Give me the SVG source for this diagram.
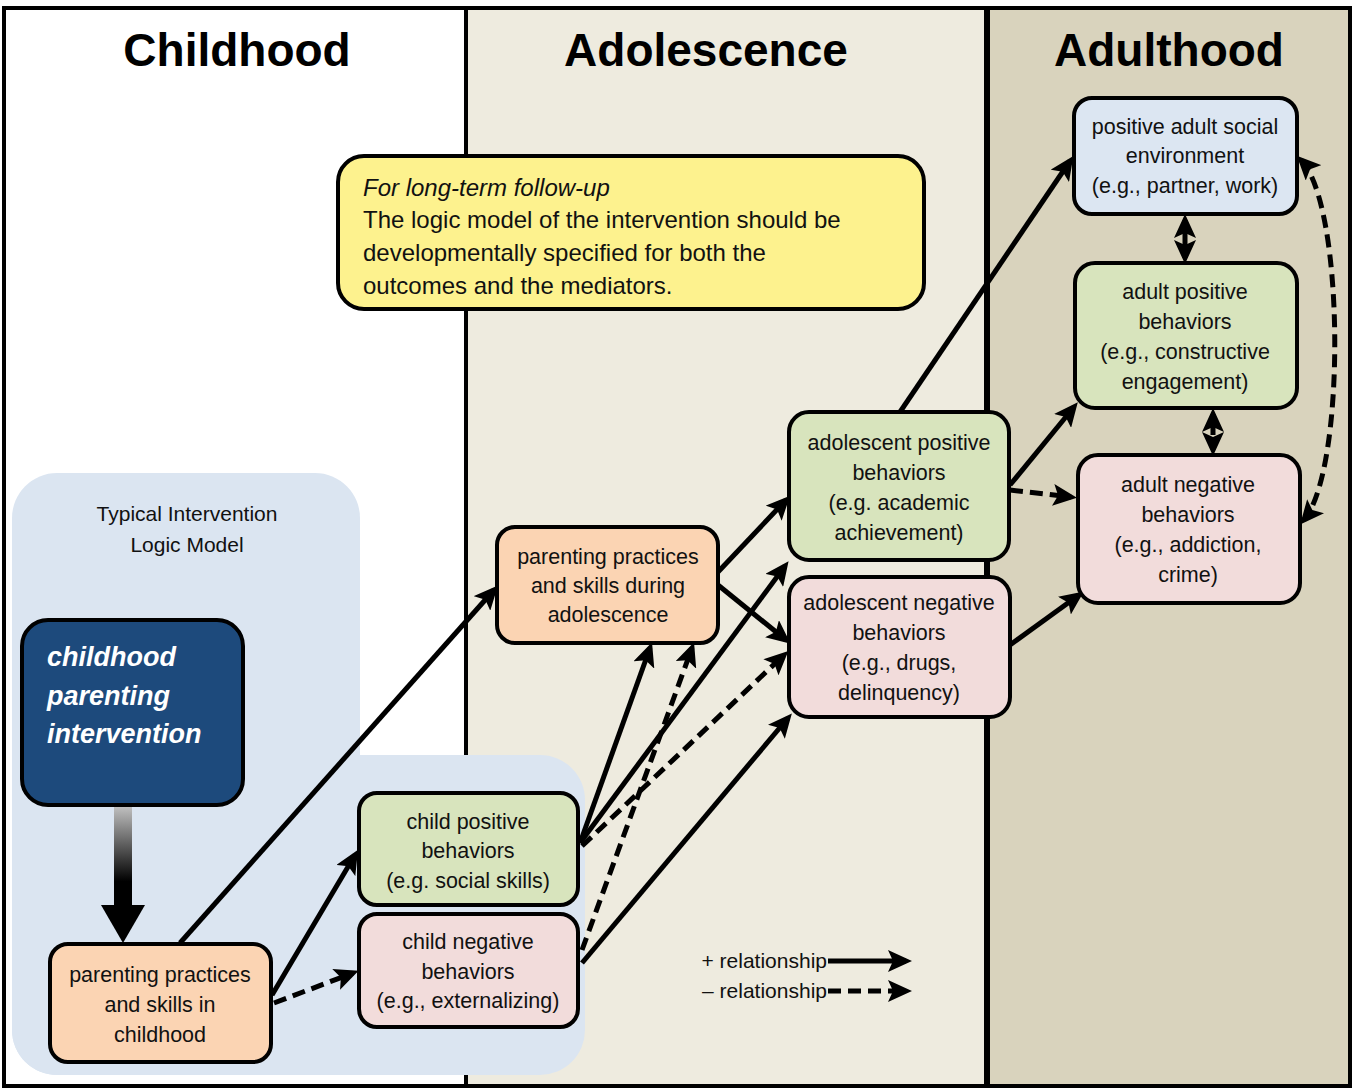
<svg xmlns="http://www.w3.org/2000/svg" width="1355" height="1090" viewBox="0 0 1355 1090">
<defs>
<style>
.hdr{font-family:"Liberation Sans",Arial,sans-serif;font-weight:bold;font-size:46px;fill:#000;text-anchor:middle}
.nt{font-family:"Liberation Sans",Arial,sans-serif;font-size:21.5px;fill:#111;text-anchor:middle}
.box{stroke:#000;stroke-width:4}
.peach{fill:#fbd4b3}
.green{fill:#d8e4bd}
.pink{fill:#f2dcdb}
.lblue{fill:#dce6f2}
.pos{fill:none;stroke:#000;stroke-width:5;marker-end:url(#ah)}
.neg{fill:none;stroke:#000;stroke-width:5;stroke-dasharray:13 7;marker-end:url(#ah)}
.yt{font-family:"Liberation Sans",Arial,sans-serif;font-size:24px;fill:#111}
</style>
<marker id="ah" viewBox="0 0 24 22" refX="18" refY="11" markerWidth="24" markerHeight="22" markerUnits="userSpaceOnUse" orient="auto-start-reverse">
<path d="M0,0 L24,11 L0,22 L5,11 z" fill="#000"/>
</marker>
<linearGradient id="grad" x1="0" y1="0" x2="0" y2="1">
<stop offset="0" stop-color="#c4c4c4"/>
<stop offset="0.75" stop-color="#000"/>
<stop offset="1" stop-color="#000"/>
</linearGradient>
</defs>

<!-- column backgrounds -->
<rect x="4" y="8" width="462" height="1078" fill="#ffffff"/>
<rect x="466" y="8" width="521" height="1078" fill="#eeebdf"/>
<rect x="987" y="8" width="363" height="1078" fill="#d9d3bd"/>
<line x1="466" y1="8" x2="466" y2="1086" stroke="#000" stroke-width="4"/>
<line x1="987" y1="8" x2="987" y2="1086" stroke="#000" stroke-width="6"/>
<rect x="4" y="8" width="1346" height="1078" fill="none" stroke="#000" stroke-width="4"/>

<!-- headers -->
<text class="hdr" x="237" y="66">Childhood</text>
<text class="hdr" x="706" y="66">Adolescence</text>
<text class="hdr" x="1169" y="66">Adulthood</text>

<!-- typical intervention logic model region -->
<g id="logic-model-region">
<rect x="12" y="473" width="348" height="602" rx="45" fill="#dbe5f1"/>
<rect x="12" y="755" width="573" height="320" rx="45" fill="#dbe5f1"/>
<text class="nt" x="187" y="521" style="font-size:21px">Typical Intervention</text>
<text class="nt" x="187" y="552" style="font-size:21px">Logic Model</text>
</g>

<!-- yellow note -->
<g id="note">
<rect x="338" y="156" width="586" height="153" rx="26" fill="#fdf28e" stroke="#000" stroke-width="4"/>
<text class="yt" x="363" y="196" font-style="italic">For long-term follow-up</text>
<text class="yt" x="363" y="228">The logic model of the intervention should be</text>
<text class="yt" x="363" y="261">developmentally specified for both the</text>
<text class="yt" x="363" y="294">outcomes and the mediators.</text>
</g>

<!-- gradient arrow -->
<g id="intervention-arrow">
<rect x="114" y="805" width="18" height="102" fill="url(#grad)"/>
<path d="M101,905 L145,905 L123,943 z" fill="#000"/>
</g>

<!-- connectors -->
<g id="connectors">
<line class="pos" x1="180" y1="943" x2="494" y2="590"/>
<line class="pos" x1="272" y1="995" x2="355" y2="855"/>
<line class="neg" x1="274" y1="1003" x2="353" y2="973"/>
<line class="pos" x1="580" y1="843" x2="650" y2="648"/>
<line class="pos" x1="580" y1="843" x2="785" y2="566"/>
<line class="neg" x1="582" y1="846" x2="784" y2="655"/>
<line class="neg" x1="582" y1="950" x2="692" y2="648"/>
<line class="pos" x1="582" y1="963" x2="788" y2="718"/>
<line class="pos" x1="718" y1="572" x2="786" y2="500"/>
<line class="pos" x1="718" y1="585" x2="786" y2="640"/>
<line class="pos" x1="900" y1="412" x2="1070" y2="161"/>
<line class="pos" x1="1010" y1="485" x2="1074" y2="407"/>
<line class="neg" x1="1010" y1="490" x2="1071" y2="497"/>
<line class="pos" x1="1010" y1="645" x2="1079" y2="595"/>
<line class="pos" x1="1185" y1="220" x2="1185" y2="258" style="marker-start:url(#ah)"/>
<line class="neg" x1="1213" y1="414" x2="1213" y2="450" style="stroke-dasharray:8 5;marker-start:url(#ah)"/>
<path class="neg" d="M1301,160 C1345,205 1346,470 1304,520" style="marker-start:url(#ah)"/>
</g>

<!-- nodes -->
<g id="n-intervention">
<rect x="22" y="620" width="221" height="185" rx="26" fill="#1d4a7c" class="box"/>
<text x="47" y="666" font-family="Liberation Sans, Arial, sans-serif" font-size="27" font-weight="bold" font-style="italic" fill="#fff">childhood</text>
<text x="47" y="705" font-family="Liberation Sans, Arial, sans-serif" font-size="27" font-weight="bold" font-style="italic" fill="#fff">parenting</text>
<text x="47" y="743" font-family="Liberation Sans, Arial, sans-serif" font-size="27" font-weight="bold" font-style="italic" fill="#fff">intervention</text>
</g>

<g id="n-parenting-child">
<rect x="50" y="944" width="221" height="118" rx="18" class="box peach"/>
<text class="nt" x="160" y="982">parenting practices</text>
<text class="nt" x="160" y="1012">and skills in</text>
<text class="nt" x="160" y="1042">childhood</text>
</g>

<g id="n-child-pos">
<rect x="359" y="793" width="219" height="112" rx="18" class="box green"/>
<text class="nt" x="468" y="829">child positive</text>
<text class="nt" x="468" y="858">behaviors</text>
<text class="nt" x="468" y="888">(e.g. social skills)</text>
</g>

<g id="n-child-neg">
<rect x="359" y="914" width="219" height="113" rx="18" class="box pink"/>
<text class="nt" x="468" y="949">child negative</text>
<text class="nt" x="468" y="979">behaviors</text>
<text class="nt" x="468" y="1008">(e.g.,  externalizing)</text>
</g>

<g id="n-parenting-adol">
<rect x="497" y="527" width="221" height="116" rx="18" class="box peach"/>
<text class="nt" x="608" y="564">parenting practices</text>
<text class="nt" x="608" y="593">and skills during</text>
<text class="nt" x="608" y="622">adolescence</text>
</g>

<g id="n-adol-pos">
<rect x="789" y="412" width="220" height="148" rx="20" class="box green"/>
<text class="nt" x="899" y="450">adolescent positive</text>
<text class="nt" x="899" y="480">behaviors</text>
<text class="nt" x="899" y="510">(e.g. academic</text>
<text class="nt" x="899" y="540">achievement)</text>
</g>

<g id="n-adol-neg">
<rect x="789" y="577" width="221" height="140" rx="20" class="box pink"/>
<text class="nt" x="899" y="610">adolescent negative</text>
<text class="nt" x="899" y="640">behaviors</text>
<text class="nt" x="899" y="670">(e.g., drugs,</text>
<text class="nt" x="899" y="700">delinquency)</text>
</g>

<g id="n-adult-env">
<rect x="1074" y="98" width="223" height="116" rx="18" class="box lblue"/>
<text class="nt" x="1185" y="134">positive adult social</text>
<text class="nt" x="1185" y="163">environment</text>
<text class="nt" x="1185" y="193">(e.g., partner, work)</text>
</g>

<g id="n-adult-pos">
<rect x="1075" y="263" width="222" height="145" rx="20" class="box green"/>
<text class="nt" x="1185" y="299">adult positive</text>
<text class="nt" x="1185" y="329">behaviors</text>
<text class="nt" x="1185" y="359">(e.g., constructive</text>
<text class="nt" x="1185" y="389">engagement)</text>
</g>

<g id="n-adult-neg">
<rect x="1078" y="455" width="222" height="148" rx="20" class="box pink"/>
<text class="nt" x="1188" y="492">adult negative</text>
<text class="nt" x="1188" y="522">behaviors</text>
<text class="nt" x="1188" y="552">(e.g., addiction,</text>
<text class="nt" x="1188" y="582">crime)</text>
</g>

<!-- legend -->
<g id="legend">
<text class="nt" x="827" y="968" style="text-anchor:end;font-size:21px">+ relationship</text>
<text class="nt" x="827" y="998" style="text-anchor:end;font-size:21px">– relationship</text>
<line class="pos" x1="828" y1="961" x2="906" y2="961"/>
<line class="neg" x1="828" y1="991" x2="906" y2="991"/>
</g>
</svg>
